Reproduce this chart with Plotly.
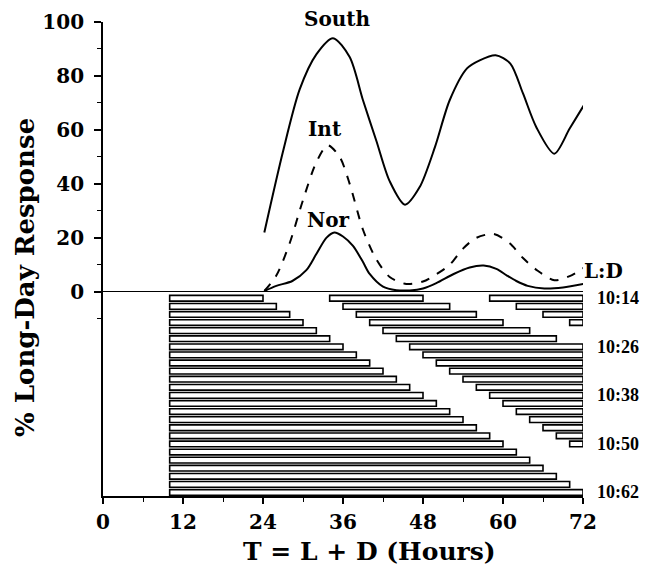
import plotly.graph_objects as go

# ---- data ----
south_x = [24.2, 27, 29.5, 32, 34.5, 37, 39, 41, 43, 45.3, 47.5, 49.8, 52, 54.6, 56.5, 58.9, 61.1, 63, 65, 67.7, 70, 72.1]
south_y = [22, 52, 75, 88, 94, 87, 71, 56, 41, 32.3, 38.8, 53.7, 71, 82.8, 85.8, 87.7, 84.6, 73.5, 61, 51.2, 60.5, 69]

int_x = [24.2, 26, 28, 30, 32, 33.7, 35.5, 37, 39, 41, 43, 45.5, 48, 50, 52, 54, 56, 58.6, 61, 63, 65.2, 67.7, 70, 72.2]
int_y = [0.3, 6, 18, 34, 48, 54.3, 50, 40, 23, 12, 5.5, 2.9, 3.8, 6.5, 10, 16, 20, 21.4, 18, 12.5, 7.8, 4.3, 5.8, 9]

nor_x = [24.2, 26, 28.4, 30.5, 32, 33.5, 34.7, 36, 37.5, 39, 40, 42, 44, 46, 48, 50, 52.6, 55, 57.1, 59, 60.6, 62, 63.7, 66.2, 69, 72.2]
nor_y = [0.3, 2.2, 4, 8, 14, 20, 22, 20.5, 17, 11, 6.6, 1.9, 0.6, 0.5, 1.2, 3.2, 6.6, 9, 9.7, 8.5, 6, 4, 2.2, 1.2, 1.6, 3]

# light:dark schedules (hours)
light_hours = 10
dark_hours = [14, 16, 18, 20, 22, 24, 26, 28, 30, 32, 34, 36, 38,
              40, 42, 44, 46, 48, 50, 52, 54, 56, 58, 60, 62]
row_y = [-2.4, -5.4, -8.4, -11.4, -14.4, -17.4, -20.4, -23.4, -26.4, -29.4,
         -32.4, -35.4, -38.4, -41.4, -44.4, -47.4, -50.4, -53.4, -56.4, -59.4,
         -62.4, -65.4, -68.4, -71.4, -74.4]
labelled_rows = ["10:14", "10:26", "10:38", "10:50", "10:62"]
x_ticks = [0, 12, 24, 36, 48, 60, 72]
y_ticks = [0, 20, 40, 60, 80, 100]
y_minor = [-10, 10, 30, 50, 70, 90]
x_max = 72

FONT = "DejaVu Serif"
NARROW = "Liberation Serif"

# build dark-period segments for each schedule
bar_base, bar_len, bar_y = [], [], []
for d, yv in zip(dark_hours, row_y):
    period = light_hours + d
    for cycle in range(3):
        start = cycle * period + light_hours
        end = min((cycle + 1) * period, x_max)
        if start < x_max:
            bar_base.append(start)
            bar_len.append(end - start)
            bar_y.append(yv)

fig = go.Figure()

fig.add_trace(go.Bar(
    orientation="h", base=bar_base, x=bar_len, y=bar_y, width=2.1,
    marker=dict(color="white", line=dict(color="black", width=1.6)),
    showlegend=False, hoverinfo="skip"))

line_style = dict(color="black", width=2, shape="spline", smoothing=0.8)
fig.add_trace(go.Scatter(x=south_x, y=south_y, mode="lines", line=line_style, showlegend=False))
fig.add_trace(go.Scatter(x=int_x, y=int_y, mode="lines",
                         line=dict(line_style, dash="dash"), showlegend=False))
fig.add_trace(go.Scatter(x=nor_x, y=nor_y, mode="lines", line=line_style, showlegend=False))

# page geometry (browser body adds an 8px margin on every side)
OFF = 8
W, H = 632, 562
ml, mr, mt, mb = 95, 57, 14, 74
pw, ph = W - ml - mr, H - mt - mb


def px_to_paper(px, py):
    return (px - OFF - ml) / pw, (H - mb - (py - OFF)) / ph


def bold(s):
    return "<b>" + s + "</b>"


annos = []
# curve labels
sx, sy = px_to_paper(337, 19)
annos.append(dict(x=sx, y=sy, xref="paper", yref="paper", text=bold("South"), showarrow=False,
                  xanchor="center", yanchor="middle", font=dict(family=FONT, size=20, color="black")))
for txt, xx, yy in [("Int", 33.3, 60.5), ("Nor", 33.8, 26.5)]:
    annos.append(dict(x=xx, y=yy, xref="x", yref="y", text=bold(txt), showarrow=False,
                      xanchor="center", yanchor="middle",
                      font=dict(family=FONT, size=20, color="black")))
lx, _ = px_to_paper(603, 0)
annos.append(dict(x=lx, y=7.6, xref="paper", yref="y", text=bold("L:D"), showarrow=False,
                  xanchor="center", yanchor="middle", font=dict(family=FONT, size=20, color="black")))
rx, _ = px_to_paper(618, 0)
for lab in labelled_rows:
    d = int(lab.split(":")[1])
    yv = row_y[dark_hours.index(d)]
    annos.append(dict(x=rx, y=yv, xref="paper", yref="y", text=bold(lab), showarrow=False,
                      xanchor="center", yanchor="middle",
                      font=dict(family=NARROW, size=18, color="black")))
tx, ty = px_to_paper(25, 278)
annos.append(dict(x=tx, y=ty, xref="paper", yref="paper",
                  text=bold("% Long-Day Response"), showarrow=False, textangle=-90,
                  xanchor="center", yanchor="middle",
                  font=dict(family=FONT, size=26, color="black")))
bx, by = px_to_paper(369, 551)
annos.append(dict(x=bx, y=by, xref="paper", yref="paper",
                  text=bold("T = L + D (Hours)"), showarrow=False,
                  xanchor="center", yanchor="middle",
                  font=dict(family=FONT, size=25, color="black")))

fig.update_layout(
    width=W, height=H,
    margin=dict(l=ml, r=mr, t=mt, b=mb, autoexpand=False),
    plot_bgcolor="white", paper_bgcolor="white",
    barmode="overlay",
    annotations=annos,
    font=dict(family=FONT, color="black"),
    xaxis=dict(range=[0, x_max], tickvals=x_ticks, ticktext=[bold(str(v)) for v in x_ticks],
               ticks="outside", ticklen=6, tickwidth=1.5, tickcolor="black",
               minor=dict(dtick=6, tick0=0, ticks="outside", ticklen=4, tickwidth=1.2, tickcolor="black"),
               showline=True, linecolor="black", linewidth=1.8, showgrid=False, zeroline=False,
               automargin=False, ticklabelstandoff=1,
               tickfont=dict(family=FONT, size=20, color="black")),
    yaxis=dict(range=[-75.7, 100], tickvals=y_ticks, ticktext=[bold(str(v)) for v in y_ticks],
               ticks="outside", ticklen=7, tickwidth=1.5, tickcolor="black",
               minor=dict(tickmode="array", tickvals=y_minor, ticks="outside", ticklen=4,
                          tickwidth=1.2, tickcolor="black"),
               showline=True, linecolor="black", linewidth=1.8, showgrid=False,
               zeroline=True, zerolinecolor="black", zerolinewidth=1.2,
               automargin=False, ticklabelstandoff=6,
               tickfont=dict(family=FONT, size=20, color="black")),
)

fig.write_html("out.html")
